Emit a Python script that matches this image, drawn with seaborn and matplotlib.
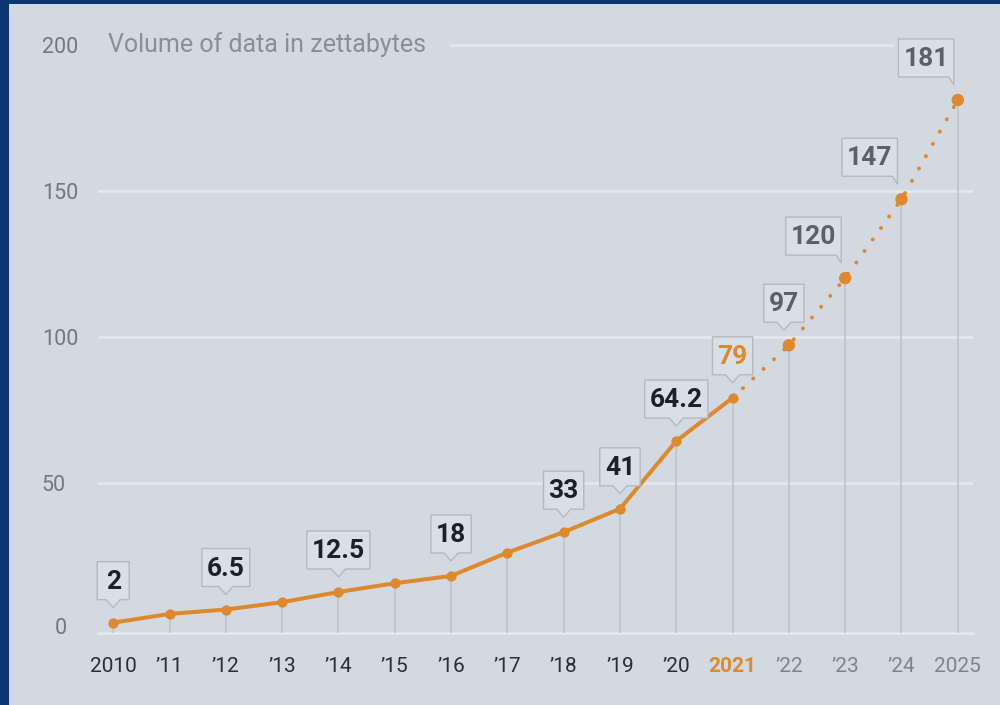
import matplotlib
matplotlib.use("Agg")
import matplotlib.pyplot as plt
import matplotlib.transforms as mtransforms
from matplotlib.path import Path
from matplotlib.patches import Rectangle
import pandas as pd
import seaborn as sns

# ---------------- data ----------------
years = [2010, 2011, 2012, 2013, 2014, 2015, 2016, 2017,
         2018, 2019, 2020, 2021, 2022, 2023, 2024, 2025]
volumes = [2, 5, 6.5, 9, 12.5, 15.5, 18, 26,
           33, 41, 64.2, 79, 97, 120, 147, 181]
tick_labels = ["2010", "\u201911", "\u201912", "\u201913", "\u201914", "\u201915",
               "\u201916", "\u201917", "\u201918", "\u201919", "\u201920", "2021",
               "\u201922", "\u201923", "\u201924", "2025"]
label_years = [2010, 2012, 2014, 2016, 2018, 2019, 2020, 2021, 2022, 2023, 2024, 2025]
label_texts = ["2", "6.5", "12.5", "18", "33", "41", "64.2", "79", "97", "120", "147", "181"]
last_actual_year = 2021
y_ticks = [0, 50, 100, 150, 200]
title = "Volume of data in zettabytes"

# ---------------- style ----------------
BG = "#d3d9e1"
BORDER = "#0c3573"
ORANGE = "#de892d"
GRID = "#e6e9ee"
VLINE = "#bcc2ca"
DARK = "#1d2027"
FGRAY = "#5c6169"
TGRAY = "#7f848b"
YGRAY = "#737880"
BOX_FC = "#d9dfe6"
BOX_EC = "#b3b9c1"

sns.set_theme(style="white")
plt.rcParams["font.family"] = ["Roboto", "DejaVu Sans"]

df = pd.DataFrame({"year": years, "volume": volumes})
actual = df[df["year"] <= last_actual_year]
forecast = df[df["year"] >= last_actual_year]

W, H, DPI = 1000, 705, 100
fig = plt.figure(figsize=(W / DPI, H / DPI), dpi=DPI, facecolor=BORDER)
fig.patches.append(Rectangle((9 / W, 0), 1, (H - 4) / H, transform=fig.transFigure,
                             facecolor=BG, edgecolor="none", zorder=-10))

ax_l, ax_r, ax_b, ax_t = 98, 973, 633, 38.66
ax = fig.add_axes([ax_l / W, (H - ax_b) / H, (ax_r - ax_l) / W, (ax_b - ax_t) / H])
ax.set_zorder(1)
ax.set_facecolor("none")
ax.set_xlim(2009.73, 2025.27)
ax.set_ylim(-1.54, 202)

for s in ["top", "right", "left"]:
    ax.spines[s].set_visible(False)
ax.spines["bottom"].set_color(GRID)
ax.spines["bottom"].set_linewidth(1.8)
ax.spines["bottom"].set_zorder(0.5)

# gridlines
for yv in y_ticks[1:-1]:
    ax.axhline(yv, color=GRID, lw=1.8, zorder=0.5)
ax.axhline(y_ticks[-1], xmin=0.402, xmax=0.909, color=GRID, lw=1.8, zorder=0.5)

# vertical drop lines
ax.vlines(df["year"], ax.get_ylim()[0], df["volume"], color=VLINE, lw=1.1, zorder=1)

# actual line
sns.lineplot(data=actual, x="year", y="volume", ax=ax, color=ORANGE, lw=2.9,
             marker="o", markersize=7.4, markeredgewidth=0, zorder=3)
# forecast dotted line
sns.lineplot(data=forecast, x="year", y="volume", ax=ax, color=ORANGE, lw=2.9, zorder=3)
dl = ax.lines[-1]
dl.set_dashes((0.01, 3.5))
dl.set_dash_capstyle("round")
sns.scatterplot(data=forecast[forecast["year"] > last_actual_year], x="year", y="volume",
                ax=ax, color=ORANGE, s=80, edgecolor="none", zorder=4)

ax.set_xlabel("")
ax.set_ylabel("")

# ticks
ax.set_xticks(years)
ax.set_xticklabels(tick_labels)
ax.set_yticks(y_ticks)
ax.set_yticklabels([""] + [str(v) for v in y_ticks[1:]])
ax.tick_params(axis="x", length=0, pad=17.5, labelsize=15)
ax.tick_params(axis="y", length=0, pad=40.5, labelsize=15.5, labelcolor=YGRAY)
for lab in ax.get_yticklabels():
    lab.set_horizontalalignment("left")
for yr, lab in zip(years, ax.get_xticklabels()):
    if yr < last_actual_year:
        lab.set_color("#2b2e35")
    elif yr == last_actual_year:
        lab.set_color(ORANGE)
        lab.set_fontweight("bold")
    else:
        lab.set_color(TGRAY)

trans = mtransforms.blended_transform_factory(ax.transAxes, ax.transData)
# the "0" label sits a little further right in the original
ax.text(-0.0491, y_ticks[0], str(y_ticks[0]), transform=trans, ha="left", va="center",
        fontsize=15.5, color=YGRAY, clip_on=False)

# title inside plot
ax.text(0.0114, y_ticks[-1], title, transform=trans, ha="left", va="center",
        fontsize=18, color="#8a8f96")


# callout box style
def make_callout(frac=0.5, pad_x=5, pad_top=8, pad_bot=6, ptr_w=14, ptr_h=8, min_w=32):
    def style(x0, y0, width, height, mutation_size):
        w = max(width + 2 * pad_x, min_w)
        if frac >= 1:
            xr = x0 + width + pad_x
            xl = xr - w
        else:
            cx = x0 + width / 2
            xl, xr = cx - w / 2, cx + w / 2
        yb = y0 - pad_bot
        yt = y0 + height + pad_top
        tip_x = xl + frac * w
        lb = max(tip_x - ptr_w / 2, xl)
        rb = min(tip_x + ptr_w / 2, xr)
        verts = [(xl, yb), (lb, yb), (tip_x, yb - ptr_h), (rb, yb), (xr, yb),
                 (xr, yt), (xl, yt), (xl, yb)]
        codes = [Path.MOVETO] + [Path.LINETO] * 6 + [Path.CLOSEPOLY]
        return Path(verts, codes)
    return style


GAP = 15
PTR_H = 8
PAD_BOT = 6
vol_map = dict(zip(years, volumes))
for yr, txt in zip(label_years, label_texts):
    yv = vol_map[yr]
    if yr < last_actual_year:
        color, frac, ha, dx = DARK, 0.5, "center", 0
    elif yr == last_actual_year:
        color, frac, ha, dx = ORANGE, 0.5, "center", 0
    elif yr == 2022:
        color, frac, ha, dx = FGRAY, 0.5, "center", -5
    else:
        color, frac, ha, dx = FGRAY, 1.0, "right", -(5 + 4)
    style = make_callout(frac=frac, ptr_h=PTR_H, pad_bot=PAD_BOT,
                         ptr_w=14 if frac < 1 else 10)
    ax.annotate(txt, xy=(yr, yv), xytext=(dx, GAP + PTR_H + PAD_BOT),
                textcoords="offset pixels", ha=ha, va="bottom",
                fontsize=19, fontweight="bold", color=color, zorder=6,
                bbox=dict(boxstyle=style, facecolor=BOX_FC, edgecolor=BOX_EC, lw=1.0))

fig.savefig("out.png", dpi=DPI, facecolor=fig.get_facecolor())
